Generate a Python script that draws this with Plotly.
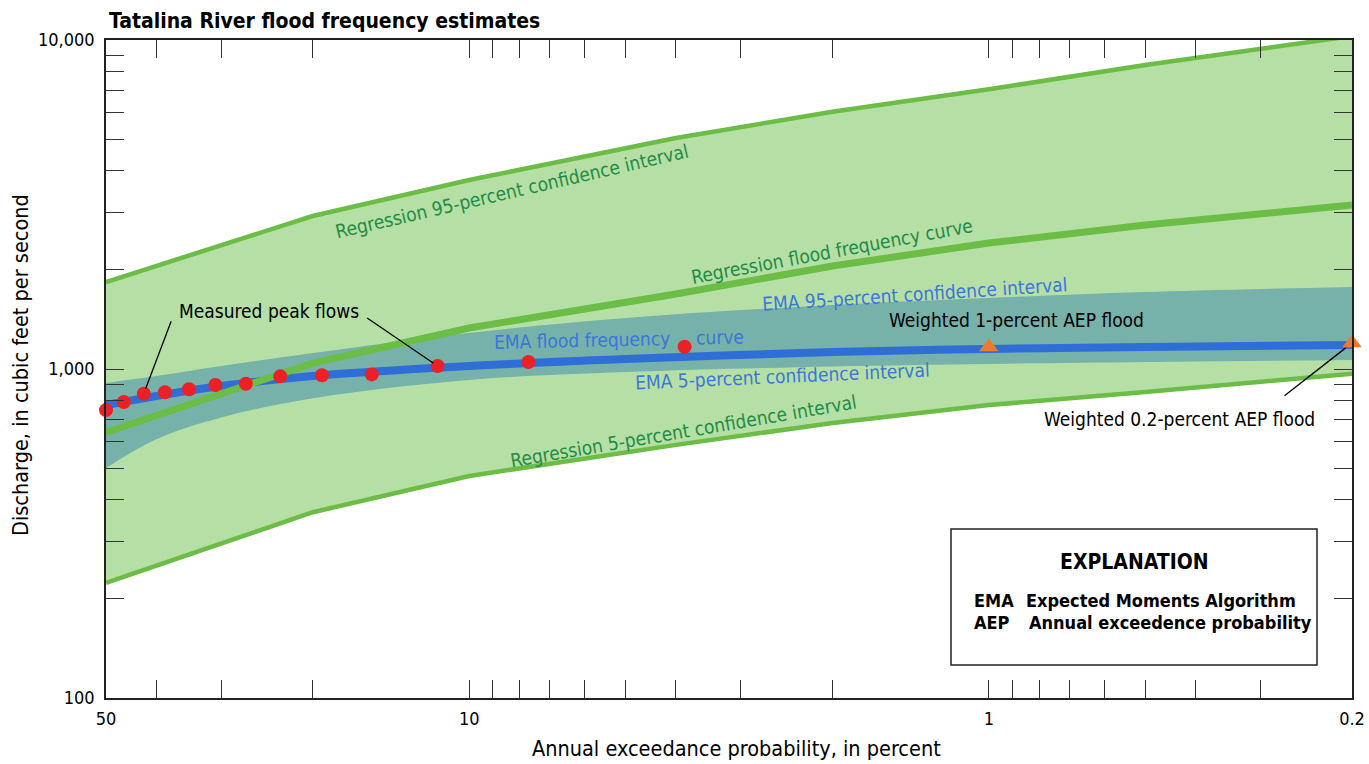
import math
import plotly.graph_objects as go

# ---------------- data ----------------
reg_aep = [50, 20, 10, 4, 2, 1, 0.5, 0.2]
reg_q = [641, 1042, 1332, 1690, 2056, 2414, 2740, 3151]
reg_u95 = [1838, 2918, 3754, 5036, 6053, 7080, 8395, 10280]
reg_l05 = [224, 367, 473, 588, 685, 777, 851, 968]

ema_aep = [50, 40, 30, 20, 10, 5, 2, 1, 0.5, 0.2]
ema_q = [777, 828, 888, 952, 1021, 1072, 1126, 1150, 1167, 1183]
ema_u95 = [907, 952, 1021, 1118, 1287, 1429, 1565, 1644, 1714, 1775]
ema_l05 = [500, 612, 712, 815, 926, 979, 1018, 1036, 1050, 1065]

peak_aep = [3.85, 7.69, 11.5, 15.4, 19.2, 23.1, 26.9, 30.8, 34.6, 38.5, 42.3, 46.2, 50.0]
peak_q = [1169, 1050, 1021, 963, 957, 950, 902, 894, 868, 850, 841, 794, 750]

weighted_aep = [1, 0.2]
weighted_q = [1167, 1200]

x_tickvals = [50, 40, 30, 20, 10, 9, 8, 7, 6, 5, 4, 3, 2, 1, 0.9, 0.8, 0.7, 0.6, 0.5, 0.4, 0.3, 0.2]
x_ticklabels = {50: "50", 10: "10", 1: "1", 0.2: "0.2"}
y_tickvals = [100, 200, 300, 400, 500, 600, 700, 800, 900,
              1000, 2000, 3000, 4000, 5000, 6000, 7000, 8000, 9000, 10000]
y_ticklabels = {100: "100", 1000: "1,000", 10000: "10,000"}

# ---------------- style ----------------
FONT = "Liberation Sans Narrow, Arial Narrow, DejaVu Sans Condensed, Roboto, sans-serif"
FILL_GREEN = "#b5dfa5"
LINE_GREEN = "#6bbd45"
TEXT_GREEN = "#1f8c45"
TEAL = "#76b2aa"
BLUE = "#2f6ed6"
TEXT_BLUE = "#3b76da"
RED = "#ec2027"
ORANGE = "#f07a2c"

W, H = 1369, 764
L, R, T, B = 106, 17, 40, 66
PW, PH = W - L - R, H - T - B


def px(x, y):
    """pixel -> paper coords (layout placement only)"""
    return (x - L) / PW, (H - B - y) / PH


fig = go.Figure()

# regression CI band
fig.add_trace(go.Scatter(x=reg_aep, y=reg_l05, mode="lines", line=dict(width=0, color=LINE_GREEN),
                         hoverinfo="skip", showlegend=False))
fig.add_trace(go.Scatter(x=reg_aep, y=reg_u95, mode="lines", line=dict(width=0, color=LINE_GREEN),
                         fill="tonexty", fillcolor=FILL_GREEN, hoverinfo="skip", showlegend=False))
# EMA CI band
fig.add_trace(go.Scatter(x=ema_aep, y=ema_l05, mode="lines", line=dict(width=0, shape="spline", color=TEAL),
                         hoverinfo="skip", showlegend=False))
fig.add_trace(go.Scatter(x=ema_aep, y=ema_u95, mode="lines", line=dict(width=0, shape="spline", color=TEAL),
                         fill="tonexty", fillcolor=TEAL, hoverinfo="skip", showlegend=False))
# EMA curve
fig.add_trace(go.Scatter(x=ema_aep, y=ema_q, mode="lines", line=dict(width=8, shape="spline", color=BLUE),
                         showlegend=False))
# regression lines
fig.add_trace(go.Scatter(x=reg_aep, y=reg_u95, mode="lines", line=dict(width=4.5, color=LINE_GREEN),
                         showlegend=False, cliponaxis=False))
fig.add_trace(go.Scatter(x=reg_aep, y=reg_l05, mode="lines", line=dict(width=4.5, color=LINE_GREEN),
                         showlegend=False))
fig.add_trace(go.Scatter(x=reg_aep, y=reg_q, mode="lines", line=dict(width=7, color=LINE_GREEN),
                         showlegend=False))
# peaks
fig.add_trace(go.Scatter(x=peak_aep, y=peak_q, mode="markers",
                         marker=dict(size=14, color=RED, line=dict(width=0)), showlegend=False,
                         cliponaxis=False))
# weighted
fig.add_trace(go.Scatter(x=weighted_aep, y=weighted_q, mode="markers",
                         marker=dict(size=17, symbol="triangle-up", color=ORANGE, line=dict(width=0)),
                         showlegend=False, cliponaxis=False))

annotations = []


def label(text, x, y, color, angle=0, size=19, bold=False, xanchor="center"):
    xp, yp = px(x, y)
    annotations.append(dict(xref="paper", yref="paper", x=xp, y=yp, text=("<b>%s</b>" % text) if bold else text,
                            showarrow=False, textangle=angle, xanchor=xanchor, yanchor="middle",
                            font=dict(family=FONT, size=size, color=color)))


label("Regression 95-percent confidence interval", 512, 191, TEXT_GREEN, -13)
label("Regression flood frequency curve", 832, 251, TEXT_GREEN, -10.5)
label("EMA 95-percent confidence interval", 915, 294, TEXT_BLUE, -3.7)
label("EMA flood frequency", 582, 340, TEXT_BLUE, -1.3)
label("curve", 720, 337, TEXT_BLUE, -1.3)
label("EMA 5-percent confidence interval", 782, 376, TEXT_BLUE, -2.5)
label("Regression 5-percent confidence interval", 683, 431, TEXT_GREEN, -9.7)
label("Measured peak flows", 177, 311, "black", xanchor="left")
label("Weighted 1-percent AEP flood", 887, 320, "black", xanchor="left")
label("Weighted 0.2-percent AEP flood", 1042, 419, "black", xanchor="left")

# leader lines (arrow tails offset in pixels, heads on data points)
annotations.append(dict(x=math.log10(peak_aep[10]), y=math.log10(peak_q[10]), xref="x", yref="y",
                        ax=28, ay=-74, showarrow=True, arrowhead=0, arrowwidth=1.3, arrowcolor="black",
                        standoff=5, text=""))
annotations.append(dict(x=math.log10(peak_aep[2]), y=math.log10(peak_q[2]), xref="x", yref="y",
                        ax=-72, ay=-49, showarrow=True, arrowhead=0, arrowwidth=1.3, arrowcolor="black",
                        standoff=5, text=""))
annotations.append(dict(x=math.log10(weighted_aep[1]), y=math.log10(weighted_q[1]), xref="x", yref="y",
                        ax=-69, ay=54, showarrow=True, arrowhead=0, arrowwidth=1.3, arrowcolor="black",
                        standoff=8, text=""))

# title
label("Tatalina River flood frequency estimates", 107, 21, "black", size=21, bold=True, xanchor="left")
# axis titles
label("Annual exceedance probability, in percent", 736, 748, "black", size=21.5)
label("Discharge, in cubic feet per second", 20, 365, "black", angle=-90, size=21.5)

# explanation box
label("EXPLANATION", 1134, 562, "black", size=21, bold=True)
label("EMA", 972, 600, "black", size=18, bold=True, xanchor="left")
label("Expected Moments Algorithm", 1024, 600, "black", size=18, bold=True, xanchor="left")
label("AEP", 972, 622, "black", size=18, bold=True, xanchor="left")
label("Annual exceedence probability", 1027, 622, "black", size=18, bold=True, xanchor="left")

bx0, by0 = px(951, 665)
bx1, by1 = px(1317, 529)
shapes = [dict(type="rect", xref="paper", yref="paper", x0=bx0, y0=by0, x1=bx1, y1=by1,
               line=dict(color="#222", width=1.5), fillcolor="white", layer="above")]

axis_common = dict(ticks="inside", ticklen=18, tickwidth=1.3, tickcolor="#333",
                   showline=True, linecolor="#222", linewidth=1.5, mirror="ticks",
                   showgrid=False, zeroline=False, automargin=False,
                   tickfont=dict(family=FONT, size=18, color="black"))

fig.update_layout(
    width=W, height=H,
    margin=dict(l=L, r=R, t=T, b=B, autoexpand=False),
    paper_bgcolor="white", plot_bgcolor="white",
    showlegend=False,
    annotations=annotations,
    shapes=shapes,
    xaxis=dict(type="log", range=[math.log10(50), math.log10(0.2)], autorange=False,
               tickvals=x_tickvals, ticktext=[x_ticklabels.get(v, "") for v in x_tickvals],
               ticklabelstandoff=4, **axis_common),
    yaxis=dict(type="log", range=[2, 4], autorange=False,
               tickvals=y_tickvals, ticktext=[y_ticklabels.get(v, "") for v in y_tickvals],
               ticklabelstandoff=6, **axis_common),
)

fig.write_html("out.html")
